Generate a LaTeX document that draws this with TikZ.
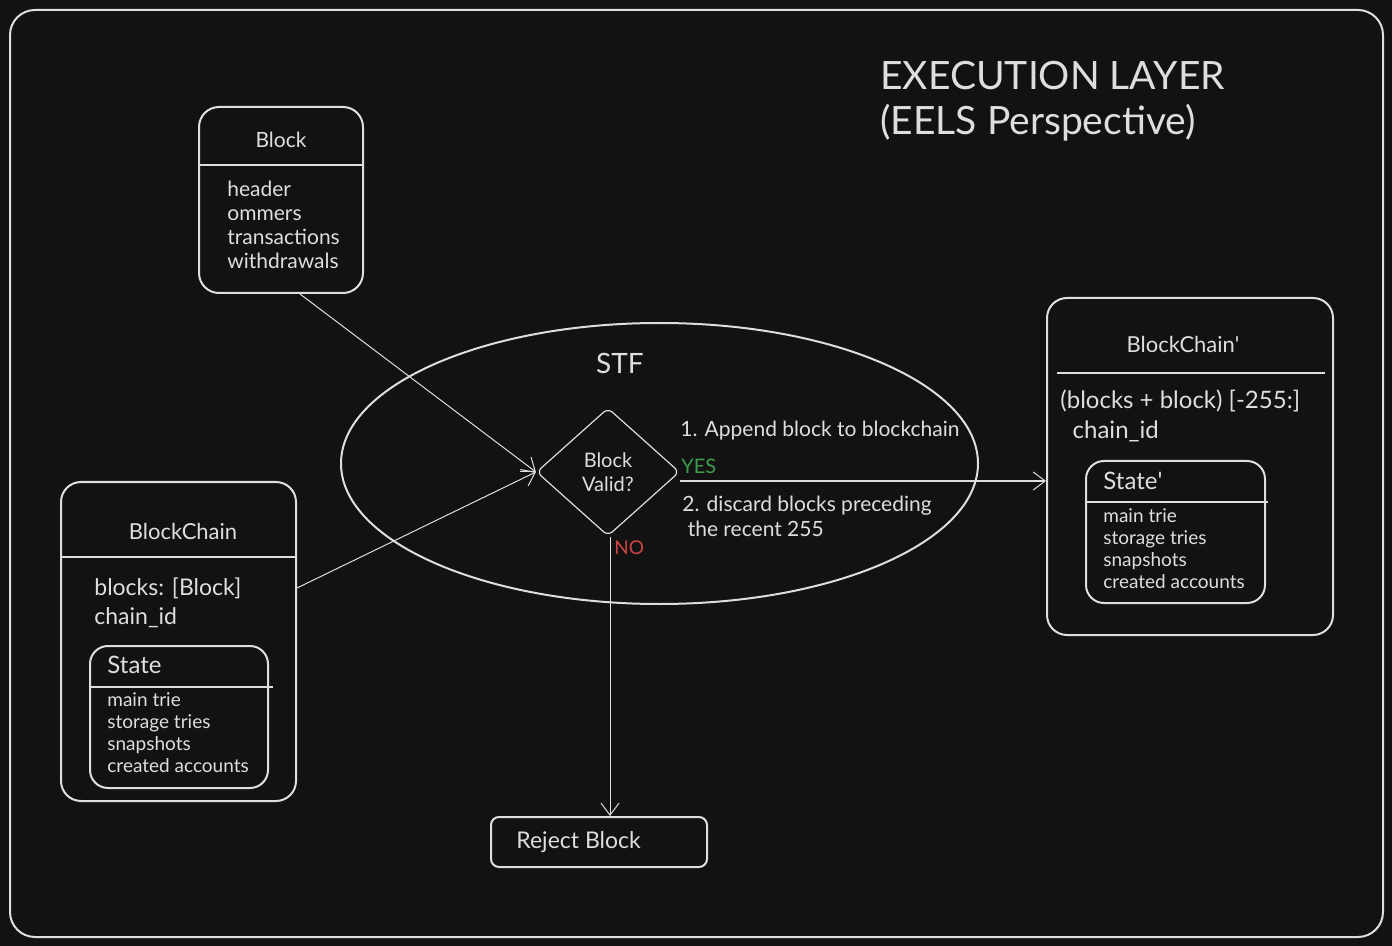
\documentclass[tikz,border=0pt]{standalone}
\usepackage{fontspec}
\setmainfont{Lato}
\usetikzlibrary{shapes.geometric,arrows.meta}
\definecolor{bg}{HTML}{121212}
\definecolor{ink}{HTML}{DEDEDE}
\definecolor{yesgreen}{HTML}{3A9E4A}
\definecolor{nored}{HTML}{D04444}

\begin{document}
\begin{tikzpicture}[x=0.5pt,y=-0.5pt,color=ink,
box/.style={draw=ink,line width=1pt,rounded corners=10pt,inner sep=0pt},
inbox/.style={box,rounded corners=9pt},
head/.style={font=\fontsize{10.5}{12}\selectfont},
field/.style={anchor=north west,inner sep=0pt,align=left,font=\fontsize{10.5}{12}\selectfont},
small/.style={field,font=\fontsize{9.5}{11}\selectfont},
arr/.style={line width=0.5pt,-{Straight Barb[length=6pt,width=9pt]}}]
\useasboundingbox (0,0) rectangle (1392,946);
\fill[bg] (0,0) rectangle (1392,946);
\draw[line width=1pt,rounded corners=12.5pt] (10,10) rectangle (1383,937);

% title
\node[anchor=north west,inner sep=0pt,align=left,font=\fontsize{19.5}{22.5}\selectfont] (title) at (880,61) {EXECUTION LAYER\\(EELS Perspective)};

% stf
\node[draw=ink,line width=1pt,ellipse,minimum width=318.5pt,minimum height=140.5pt] (stf) at (659.5,463.5) {};
\node[font=\fontsize{14}{16}\selectfont] (stflabel) at (620,363) {STF};
\node[draw=ink,line width=0.6pt,diamond,rounded corners=3pt,minimum width=71.5pt,minimum height=64pt,inner sep=0pt,align=center,font=\fontsize{10}{12}\selectfont] (valid) at (608,472) {Block\\Valid?};
\node[field,font=\fontsize{10.5}{12}\selectfont] (step1) at (680,421) {1. Append block to blockchain};
\node[field,font=\fontsize{10.5}{12.5}\selectfont] (step2) at (682,496) {2. discard blocks preceding\\ \ the recent 255};

% block
\node[box,minimum width=82pt,minimum height=93pt] (block) at (281,200) {};
\node[head] (blockhead) at (281,140) {Block};
\draw[line width=1pt] (199,165) -- (363,165);
\node[field] (blockf) at (227,181) {header\\ommers\\transactions\\withdrawals};

% blockchain
\node[box,minimum width=117.5pt,minimum height=159.5pt] (bc) at (178.5,641.5) {};
\node[head,font=\fontsize{11}{13}\selectfont] (bchead) at (183,531) {BlockChain};
\draw[line width=1pt] (61,557) -- (296,557);
\node[field,font=\fontsize{11.5}{14.5}\selectfont] (bcf) at (94,577) {blocks: [Block]\\chain\_id};
\node[inbox,minimum width=89pt,minimum height=71pt] (st) at (179,717) {};
\node[field,font=\fontsize{12}{13}\selectfont] (sthead) at (107,656) {State};
\draw[line width=0.8pt] (90,687) -- (273,687);
\node[small] (stf1) at (107,692) {main trie\\storage tries\\snapshots\\created accounts};

% blockchain'
\node[box,minimum width=143pt,minimum height=168.5pt] (bc2) at (1190,466.5) {};
\node[head,font=\fontsize{11}{13}\selectfont] (bc2head) at (1183,344) {BlockChain\textquotesingle};
\draw[line width=1pt] (1057,373) -- (1325,373);
\node[field,font=\fontsize{12}{15}\selectfont] (bc2f) at (1060,389) {(blocks + block) [-255:]\\ \ \ chain\_id};
\node[inbox,minimum width=89.5pt,minimum height=71pt] (st2) at (1175.5,532) {};
\node[field,font=\fontsize{12}{13}\selectfont] (st2head) at (1103,472) {State\textquotesingle};
\draw[line width=0.8pt] (1086,502) -- (1268,502);
\node[small] (st2f) at (1103,508) {main trie\\storage tries\\snapshots\\created accounts};

% reject
\node[box,rounded corners=4pt,minimum width=108pt,minimum height=25pt] (reject) at (599,842) {};
\node[anchor=west,inner sep=0pt,font=\fontsize{11.5}{13}\selectfont] (rejecttxt) at (516,842) {Reject Block};

% arrows
\draw[arr] ([xshift=9.5pt]block.south) -- (valid.west);
\draw[arr] ([yshift=26.75pt]bc.east) -- (valid.west);
\coordinate (yes) at ([yshift=-4.5pt]valid.east);
\draw[arr] (yes) -- (yes -| bc2.west);
\draw[arr] ([xshift=1pt]valid.south) -- ([xshift=1pt]valid.south |- reject.north);
\node[anchor=west,inner sep=0pt,text=yesgreen,font=\fontsize{10}{12}\selectfont] (yeslabel) at (681,466) {YES};
\node[anchor=west,inner sep=0pt,text=nored,font=\fontsize{9.5}{12}\selectfont] (nolabel) at (614,548) {NO};
\end{tikzpicture}
\end{document}
